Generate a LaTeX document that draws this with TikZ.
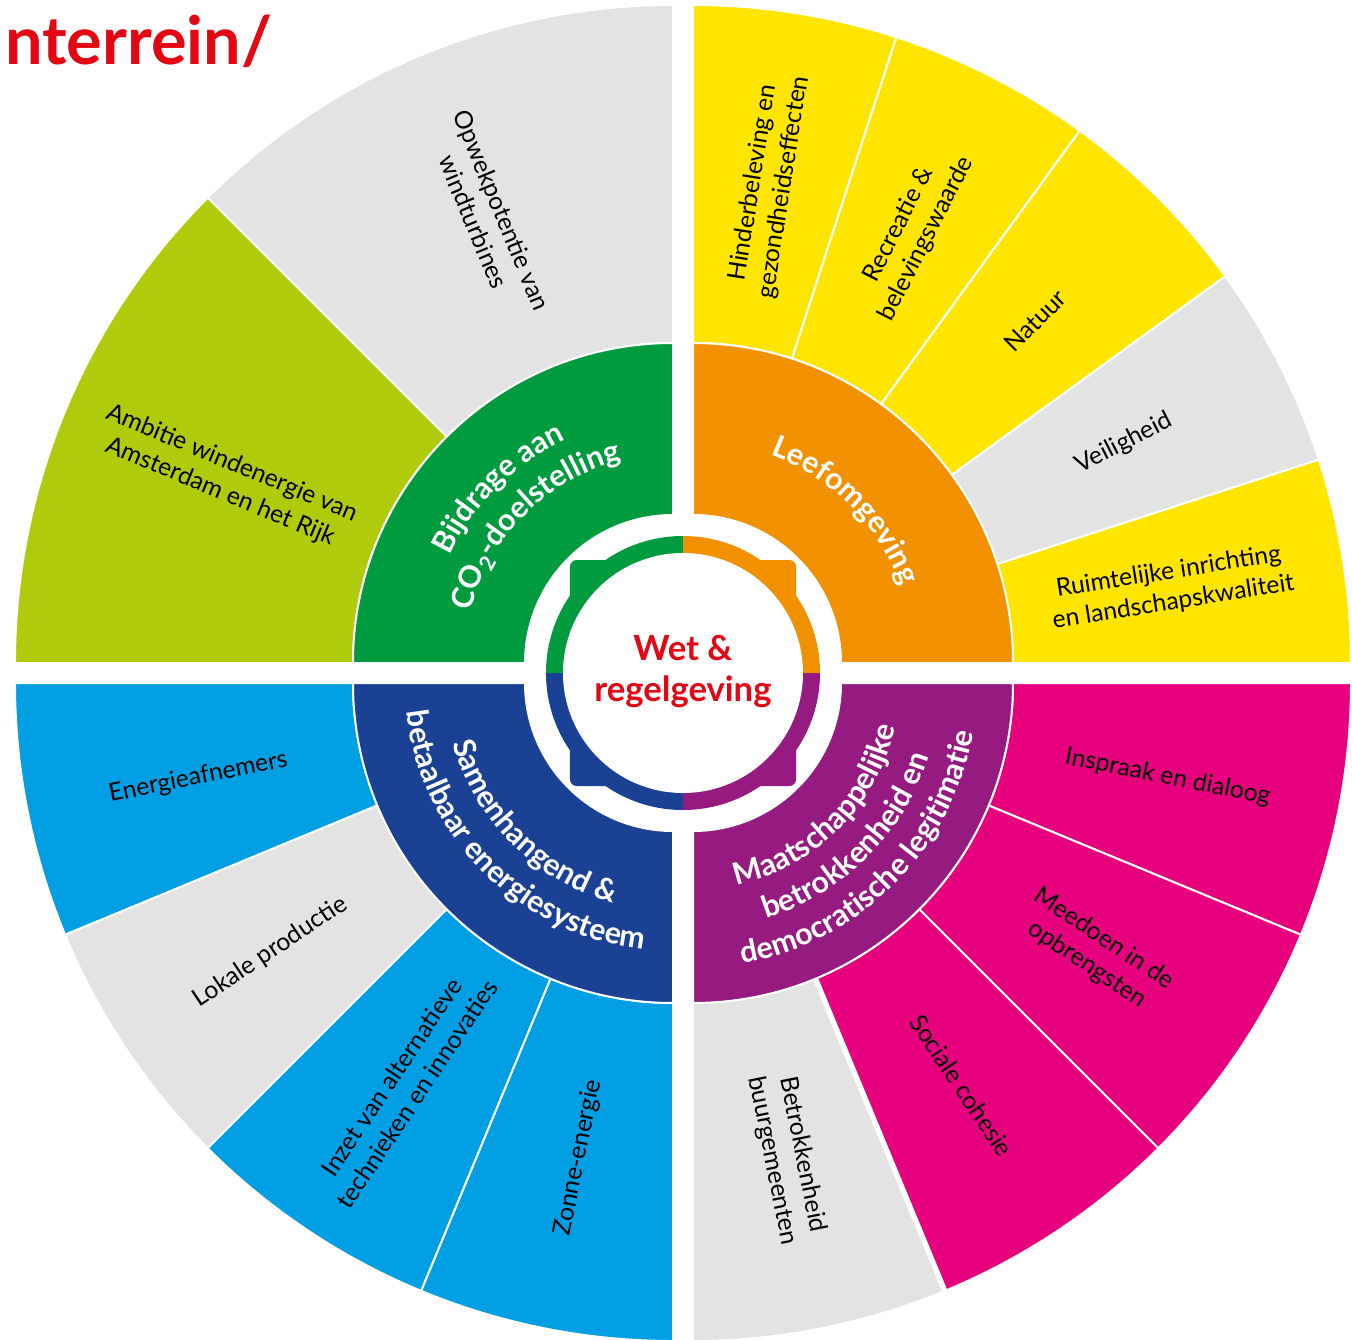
\documentclass[tikz,border=0pt]{standalone}
\usepackage{fontspec}
\setmainfont{Lato}
\usetikzlibrary{decorations.text}

\definecolor{cgreen}{RGB}{0,155,62}
\definecolor{clime}{RGB}{176,203,11}
\definecolor{cgray}{RGB}{227,227,227}
\definecolor{corange}{RGB}{242,145,0}
\definecolor{cyellow}{RGB}{255,229,0}
\definecolor{cpurple}{RGB}{149,27,129}
\definecolor{cmagenta}{RGB}{230,0,126}
\definecolor{cnavy}{RGB}{26,65,148}
\definecolor{cblue}{RGB}{0,159,227}
\definecolor{cred}{RGB}{227,6,19}

\newcommand\lblfont{\fontsize{18.5}{23}\selectfont}
\newcommand\hdfont{\fontsize{22.8}{27}\selectfont\bfseries}

\tikzset{
  seg/.style={draw=white, line width=1.5pt, line join=round},
  lbl/.style={align=center, font=\lblfont, inner sep=0pt, text=black},
  hd/.style={decorate, decoration={text along path, text align=center, text color=white}},
  ctrtxt/.style={align=center, font=\fontsize{26}{30.8}\selectfont\bfseries, text=cred, inner sep=0pt}
}

\begin{document}
\begin{tikzpicture}[x=0.75pt,y=0.75pt]
\useasboundingbox (-683,-666) rectangle (669,673);

% corners of the four quarters
\coordinate (tl) at (-10,10);
\coordinate (tr) at (10,10);
\coordinate (br) at (10,-10);
\coordinate (bl) at (-10,-10);

%Shape: outer ring, top left
\draw[seg, fill=cgray] ([shift={(90:320)}]tl) arc[start angle=90, end angle=135, radius=320] -- ([shift={(135:658)}]tl) arc[start angle=135, end angle=90, radius=658] -- cycle;
\draw[seg, fill=clime] ([shift={(135:320)}]tl) arc[start angle=135, end angle=180, radius=320] -- ([shift={(180:658)}]tl) arc[start angle=180, end angle=135, radius=658] -- cycle;
%Shape: outer ring, top right
\draw[seg, fill=cyellow] ([shift={(72:320)}]tr) arc[start angle=72, end angle=90, radius=320] -- ([shift={(90:658)}]tr) arc[start angle=90, end angle=72, radius=658] -- cycle;
\draw[seg, fill=cyellow] ([shift={(54:320)}]tr) arc[start angle=54, end angle=72, radius=320] -- ([shift={(72:658)}]tr) arc[start angle=72, end angle=54, radius=658] -- cycle;
\draw[seg, fill=cyellow] ([shift={(36:320)}]tr) arc[start angle=36, end angle=54, radius=320] -- ([shift={(54:658)}]tr) arc[start angle=54, end angle=36, radius=658] -- cycle;
\draw[seg, fill=cgray] ([shift={(18:320)}]tr) arc[start angle=18, end angle=36, radius=320] -- ([shift={(36:658)}]tr) arc[start angle=36, end angle=18, radius=658] -- cycle;
\draw[seg, fill=cyellow] ([shift={(0:320)}]tr) arc[start angle=0, end angle=18, radius=320] -- ([shift={(18:658)}]tr) arc[start angle=18, end angle=0, radius=658] -- cycle;
%Shape: outer ring, bottom right
\draw[seg, fill=cmagenta] ([shift={(-22.5:320)}]br) arc[start angle=-22.5, end angle=0, radius=320] -- ([shift={(0:658)}]br) arc[start angle=0, end angle=-22.5, radius=658] -- cycle;
\draw[seg, fill=cmagenta] ([shift={(-45:320)}]br) arc[start angle=-45, end angle=-22.5, radius=320] -- ([shift={(-22.5:658)}]br) arc[start angle=-22.5, end angle=-45, radius=658] -- cycle;
\draw[seg, fill=cmagenta] ([shift={(-67.5:320)}]br) arc[start angle=-67.5, end angle=-45, radius=320] -- ([shift={(-45:658)}]br) arc[start angle=-45, end angle=-67.5, radius=658] -- cycle;
\draw[seg, fill=cgray] ([shift={(-90:320)}]br) arc[start angle=-90, end angle=-67.5, radius=320] -- ([shift={(-67.5:658)}]br) arc[start angle=-67.5, end angle=-90, radius=658] -- cycle;
\draw[white, line width=4pt] ([shift={(-67.5:318)}]br) -- ([shift={(-67.5:662)}]br);
%Shape: outer ring, bottom left
\draw[seg, fill=cblue] ([shift={(180:320)}]bl) arc[start angle=180, end angle=202.5, radius=320] -- ([shift={(202.5:658)}]bl) arc[start angle=202.5, end angle=180, radius=658] -- cycle;
\draw[seg, fill=cgray] ([shift={(202.5:320)}]bl) arc[start angle=202.5, end angle=225, radius=320] -- ([shift={(225:658)}]bl) arc[start angle=225, end angle=202.5, radius=658] -- cycle;
\draw[seg, fill=cblue] ([shift={(225:320)}]bl) arc[start angle=225, end angle=247.5, radius=320] -- ([shift={(247.5:658)}]bl) arc[start angle=247.5, end angle=225, radius=658] -- cycle;
\draw[seg, fill=cblue] ([shift={(247.5:320)}]bl) arc[start angle=247.5, end angle=270, radius=320] -- ([shift={(270:658)}]bl) arc[start angle=270, end angle=247.5, radius=658] -- cycle;

%Shape: inner ring, four themes
\draw[seg, fill=cgreen] ([shift={(90:148)}]tl) arc[start angle=90, end angle=180, radius=148] -- ([shift={(180:320)}]tl) arc[start angle=180, end angle=90, radius=320] -- cycle;
\draw[seg, fill=corange] ([shift={(0:148)}]tr) arc[start angle=0, end angle=90, radius=148] -- ([shift={(90:320)}]tr) arc[start angle=90, end angle=0, radius=320] -- cycle;
\draw[seg, fill=cpurple] ([shift={(-90:148)}]br) arc[start angle=-90, end angle=0, radius=148] -- ([shift={(0:320)}]br) arc[start angle=0, end angle=-90, radius=320] -- cycle;
\draw[seg, fill=cnavy] ([shift={(180:148)}]bl) arc[start angle=180, end angle=270, radius=148] -- ([shift={(270:320)}]bl) arc[start angle=270, end angle=180, radius=320] -- cycle;

%Shape: centre ring with square corners
\fill[cgreen] (0,0) -- (-137,0) arc[start angle=180, end angle=90, radius=137] -- cycle;
\fill[cgreen, rounded corners=5] (0,0) rectangle (-113,113);
\fill[corange] (0,0) -- (0,137) arc[start angle=90, end angle=0, radius=137] -- cycle;
\fill[corange, rounded corners=5] (0,0) rectangle (113,113);
\fill[cpurple] (0,0) -- (137,0) arc[start angle=0, end angle=-90, radius=137] -- cycle;
\fill[cpurple, rounded corners=5] (0,0) rectangle (113,-113);
\fill[cnavy] (0,0) -- (0,-137) arc[start angle=-90, end angle=-180, radius=137] -- cycle;
\fill[cnavy, rounded corners=5] (0,0) rectangle (-113,-113);
\fill[white] (0,0) circle[radius=120];

% Text Node
\node[ctrtxt] (wet) at (0,2) {Wet \&\\regelgeving};
% Text Node
\node[anchor=base west, inner sep=0pt, text=cred, font=\fontsize{50}{50}\selectfont\bfseries] (kop) at (-678,608) {nterrein/};

% curved theme titles
\path[hd, decoration={text={|\hdfont|Bijdrage aan}}] ([shift={(190:248)}]tl) arc[start angle=190, end angle=80, radius=248];
\path[hd, decoration={text={|\hdfont|CO{\textsubscript{2}}-doelstelling}}] ([shift={(190:209)}]tl) arc[start angle=190, end angle=80, radius=209];
\path[hd, decoration={text={|\hdfont|Leefomgeving}}] ([shift={(100:222)}]tr) arc[start angle=100, end angle=-10, radius=222];
\path[hd, decoration={text={|\hdfont|Maatschappelijke}}] ([shift={(-100:207)}]br) arc[start angle=-100, end angle=10, radius=207];
\path[hd, decoration={text={|\hdfont|betrokkenheid en}}] ([shift={(-100:247)}]br) arc[start angle=-100, end angle=10, radius=247];
\path[hd, decoration={text={|\hdfont|democratische legitimatie}}] ([shift={(-100:285)}]br) arc[start angle=-100, end angle=10, radius=285];
\path[hd, decoration={text={|\hdfont|Samenhangend {\&}}}] ([shift={(170:228)}]bl) arc[start angle=170, end angle=280, radius=228];
\path[hd, decoration={text={|\hdfont|betaalbaar energiesysteem}}] ([shift={(170:268)}]bl) arc[start angle=170, end angle=280, radius=268];

% Text Node
\node[lbl, rotate=-67.5] (opwek) at ([shift={(112.5:484)}]tl) {Opwekpotentie van\\windturbines};
% Text Node
\node[lbl, rotate=-22.5] (ambitie) at ([shift={(157.5:484)}]tl) {Ambitie windenergie van\\Amsterdam en het Rijk};
% Text Node
\node[lbl, rotate=81] (hinder) at ([shift={(81:484)}]tr) {Hinderbeleving en\\gezondheidseffecten};
% Text Node
\node[lbl, rotate=63] (recreatie) at ([shift={(63:484)}]tr) {Recreatie \&\\belevingswaarde};
% Text Node
\node[lbl, rotate=45] (natuur) at ([shift={(45:484)}]tr) {Natuur};
% Text Node
\node[lbl, rotate=27] (veilig) at ([shift={(27:484)}]tr) {Veiligheid};
% Text Node
\node[lbl, rotate=9] (ruimte) at ([shift={(9:484)}]tr) {Ruimtelijke inrichting\\en landschapskwaliteit};
% Text Node
\node[lbl, rotate=-11.25] (inspraak) at ([shift={(-11.25:484)}]br) {Inspraak en dialoog};
% Text Node
\node[lbl, rotate=-33.75] (meedoen) at ([shift={(-33.75:484)}]br) {Meedoen in de\\opbrengsten};
% Text Node
\node[lbl, rotate=-56.25] (cohesie) at ([shift={(-56.25:484)}]br) {Sociale cohesie};
% Text Node
\node[lbl, rotate=-78.75] (buren) at ([shift={(-78.75:484)}]br) {Betrokkenheid\\buurgemeenten};
% Text Node
\node[lbl, rotate=11.25] (afnemers) at ([shift={(191.25:484)}]bl) {Energieafnemers};
% Text Node
\node[lbl, rotate=33.75] (lokaal) at ([shift={(213.75:484)}]bl) {Lokale productie};
% Text Node
\node[lbl, rotate=56.25] (inzet) at ([shift={(236.25:484)}]bl) {Inzet van alternatieve\\technieken en innovaties};
% Text Node
\node[lbl, rotate=78.75] (zon) at ([shift={(258.75:484)}]bl) {Zonne-energie};

\end{tikzpicture}
\end{document}
